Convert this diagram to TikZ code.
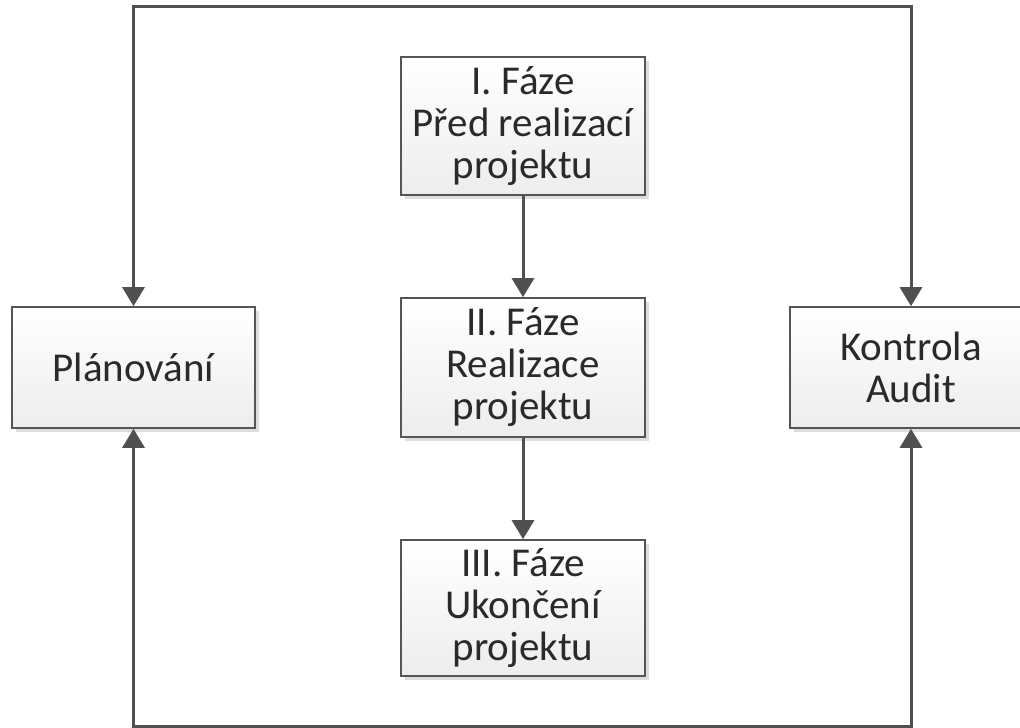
\documentclass[tikz,border=0pt]{standalone}
\usepackage{fontspec}
\setmainfont{Carlito}
\usetikzlibrary{arrows.meta,shadows}
\definecolor{linec}{HTML}{505050}
\definecolor{boxline}{HTML}{555555}
\definecolor{txt}{HTML}{2A2A2A}
\definecolor{shadowc}{HTML}{DDDDDD}
\tikzset{
  boxnode/.style={draw=boxline, line width=1.6pt, top color=white, bottom color=black!7,
    text=txt, align=center, inner sep=0pt,
    font=\fontsize{41}{42}\selectfont,
    drop shadow={shadow xshift=4pt, shadow yshift=-4pt, fill=shadowc, opacity=1}},
  conn/.style={draw=linec, line width=3pt, line join=miter},
  tip/.style={-{Triangle[length=19pt,width=22pt]}}
}
\begin{document}
\begin{tikzpicture}[x=1pt,y=-1pt]
\clip (0,0) rectangle (1020,728);
\useasboundingbox (0,0) rectangle (1020,728);
\node[boxnode, minimum width=243pt, minimum height=121pt] (plan) at (133.5,367.5) {Plánování};
\node[boxnode, minimum width=242pt, minimum height=121pt] (kon) at (911,367.5) {Kontrola\\Audit};
\node[boxnode, minimum width=244pt, minimum height=138pt] (f1) at (523,126) {I. Fáze\\Před realizací\\projektu};
\node[boxnode, minimum width=244pt, minimum height=139pt] (f2) at (523,367.5) {II. Fáze\\Realizace\\projektu};
\node[boxnode, minimum width=244pt, minimum height=136pt] (f3) at (523,608) {III. Fáze\\Ukončení\\projektu};
\coordinate (tl) at (133.5,6);
\coordinate (tr) at (911,6);
\coordinate (bl) at (133.5,726);
\coordinate (br) at (911,726);
\draw[conn, tip] (f1) -- (f2);
\draw[conn, tip] (f2) -- (f3);
\draw[conn, {Triangle[length=19pt,width=22pt]}-{Triangle[length=19pt,width=22pt]}] (plan.north) -- (tl) -- (tr) -- (kon.north);
\draw[conn, {Triangle[length=19pt,width=22pt]}-{Triangle[length=19pt,width=22pt]}] (plan.south) -- (bl) -- (br) -- (kon.south);
\end{tikzpicture}
\end{document}
